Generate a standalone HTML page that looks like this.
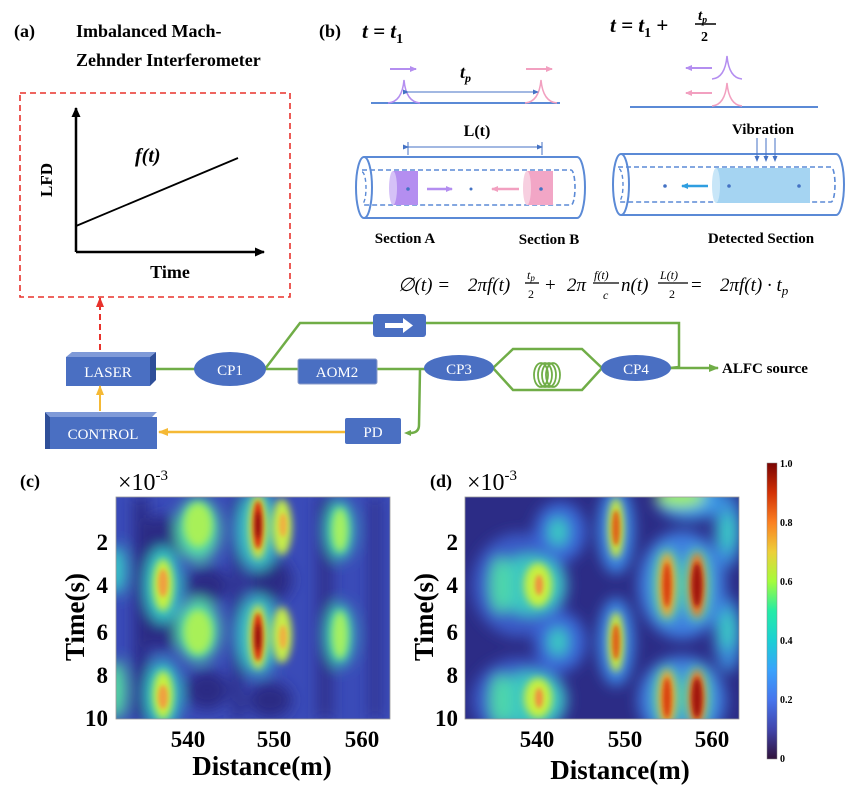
<!DOCTYPE html>
<html><head><meta charset="utf-8"><style>
html,body{margin:0;padding:0;background:#fff;}
svg{display:block;font-family:"Liberation Serif",serif;}
</style></head><body>
<svg width="854" height="792" viewBox="0 0 854 792" xmlns="http://www.w3.org/2000/svg">
<defs>
<filter id="b8" x="-50%" y="-50%" width="200%" height="200%"><feGaussianBlur stdDeviation="7"/></filter>
<filter id="b4" x="-50%" y="-50%" width="200%" height="200%"><feGaussianBlur stdDeviation="4"/></filter>
<filter id="b2" x="-50%" y="-50%" width="200%" height="200%"><feGaussianBlur stdDeviation="2.5"/></filter>
<linearGradient id="cb" x1="0" y1="1" x2="0" y2="0">
<stop offset="0" stop-color="#30123b"/><stop offset="0.1" stop-color="#4145ab"/><stop offset="0.2" stop-color="#4675ed"/>
<stop offset="0.3" stop-color="#39a2fc"/><stop offset="0.4" stop-color="#1bcfd4"/><stop offset="0.5" stop-color="#24eca6"/>
<stop offset="0.6" stop-color="#a4fc3b"/><stop offset="0.7" stop-color="#edcf39"/><stop offset="0.8" stop-color="#fb8022"/>
<stop offset="0.9" stop-color="#d23105"/><stop offset="1" stop-color="#7a0403"/></linearGradient>
<clipPath id="cc"><rect x="116" y="497" width="274" height="222"/></clipPath>
<clipPath id="cd"><rect x="465" y="497" width="274" height="222"/></clipPath>
<marker id="ag" markerUnits="userSpaceOnUse" markerWidth="10" markerHeight="10" refX="9" refY="5" orient="auto"><path d="M0,1 L10,5 L0,9z" fill="#70ad47"/></marker>
<marker id="ay" markerUnits="userSpaceOnUse" markerWidth="10" markerHeight="10" refX="9" refY="5" orient="auto"><path d="M0,1 L10,5 L0,9z" fill="#f5b935"/></marker>
<marker id="ar" markerUnits="userSpaceOnUse" markerWidth="10" markerHeight="10" refX="9" refY="5" orient="auto"><path d="M0,1 L10,5 L0,9z" fill="#e8322c"/></marker>
<marker id="ab" markerUnits="userSpaceOnUse" markerWidth="6" markerHeight="6" refX="5" refY="3" orient="auto"><path d="M0,0.5 L6,3 L0,5.5z" fill="#4472c4"/></marker>
<marker id="ak" markerUnits="userSpaceOnUse" markerWidth="10" markerHeight="10" refX="9" refY="5" orient="auto"><path d="M0,0.5 L10,5 L0,9.5z" fill="#000"/></marker>
<marker id="ap" markerUnits="userSpaceOnUse" markerWidth="7" markerHeight="7" refX="6" refY="3.5" orient="auto"><path d="M0,0.5 L7,3.5 L0,6.5z" fill="#b48ef0"/></marker>
<marker id="ak2" markerUnits="userSpaceOnUse" markerWidth="7" markerHeight="7" refX="6" refY="3.5" orient="auto"><path d="M0,0.5 L7,3.5 L0,6.5z" fill="#f2a0c0"/></marker>
<marker id="ac" markerUnits="userSpaceOnUse" markerWidth="7" markerHeight="7" refX="6" refY="3.5" orient="auto"><path d="M0,0.5 L7,3.5 L0,6.5z" fill="#2f9ee0"/></marker>
</defs>

<!-- (a) -->
<g font-weight="bold" font-size="18">
<text x="14" y="37">(a)</text>
<text x="76" y="37">Imbalanced Mach-</text>
<text x="76" y="66">Zehnder Interferometer</text>
</g>
<rect x="20" y="93" width="270" height="204" fill="none" stroke="#e8322c" stroke-width="1.6" stroke-dasharray="6,4"/>
<line x1="76" y1="252" x2="76" y2="108" stroke="#000" stroke-width="2.5" marker-end="url(#ak)"/>
<line x1="76" y1="252" x2="264" y2="252" stroke="#000" stroke-width="2.5" marker-end="url(#ak)"/>
<line x1="76" y1="226" x2="238" y2="158" stroke="#000" stroke-width="1.8"/>
<text x="135" y="162" font-size="20" font-weight="bold" font-style="italic">f(t)</text>
<text transform="translate(52,180) rotate(-90)" text-anchor="middle" font-size="17" font-weight="bold">LFD</text>
<text x="170" y="278" text-anchor="middle" font-size="18" font-weight="bold">Time</text>

<!-- (b) -->
<text x="319" y="37" font-size="18" font-weight="bold">(b)</text>
<text x="362" y="38" font-size="21" font-weight="bold" font-style="italic">t = t<tspan font-size="14" dy="5" font-style="normal">1</tspan></text>
<text x="610" y="32" font-size="21" font-weight="bold" font-style="italic">t = t<tspan font-size="14" dy="5" font-style="normal">1</tspan><tspan dy="-5" font-style="normal"> + </tspan></text>
<text x="698" y="20" font-size="15" font-weight="bold" font-style="italic">t<tspan font-size="10" dy="3">p</tspan></text>
<line x1="695" y1="24" x2="716" y2="24" stroke="#000" stroke-width="1.5"/>
<text x="701" y="41" font-size="14" font-weight="bold">2</text>

<line x1="371" y1="103" x2="560" y2="103" stroke="#5b8ad6" stroke-width="2"/>
<path d="M388,103 Q402,102 404,80 Q406,102 420,103" fill="none" stroke="#b48ef0" stroke-width="1.5"/>
<path d="M525,103 Q539,102 541,80 Q543,102 557,103" fill="none" stroke="#f2a0c0" stroke-width="1.5"/>
<line x1="390" y1="69" x2="416" y2="69" stroke="#b48ef0" stroke-width="2" marker-end="url(#ap)"/>
<line x1="526" y1="69" x2="552" y2="69" stroke="#f2a0c0" stroke-width="2" marker-end="url(#ak2)"/>
<line x1="408" y1="92" x2="538" y2="92" stroke="#4472c4" stroke-width="1" marker-end="url(#ab)" marker-start="url(#ab)"/>
<text x="460" y="78" font-size="18" font-weight="bold" font-style="italic">t<tspan font-size="12" dy="4">p</tspan></text>

<line x1="630" y1="107" x2="818" y2="107" stroke="#5b8ad6" stroke-width="2"/>
<path d="M712,79 Q725,78 727,56 Q729,78 742,79" fill="none" stroke="#b48ef0" stroke-width="1.5"/>
<path d="M712,106 Q725,105 727,83 Q729,105 742,106" fill="none" stroke="#f2a0c0" stroke-width="1.5"/>
<line x1="712" y1="68" x2="686" y2="68" stroke="#b48ef0" stroke-width="2" marker-end="url(#ap)"/>
<line x1="712" y1="93" x2="686" y2="93" stroke="#f2a0c0" stroke-width="2" marker-end="url(#ak2)"/>

<text x="477" y="136" text-anchor="middle" font-size="16" font-weight="bold">L(t)</text>
<line x1="408" y1="142" x2="408" y2="155" stroke="#4472c4"/><line x1="542" y1="142" x2="542" y2="155" stroke="#4472c4"/>
<line x1="408" y1="147" x2="542" y2="147" stroke="#4472c4" stroke-width="1" marker-end="url(#ab)" marker-start="url(#ab)"/>

<!-- left tube -->
<path d="M364,157 L577,157 A8,30.5 0 0 1 577,218 L364,218" fill="none" stroke="#5b8ad6" stroke-width="2"/>
<ellipse cx="364" cy="187.5" rx="8" ry="30.5" fill="none" stroke="#5b8ad6" stroke-width="2"/>
<path d="M362,170 L571,170 A4,17.5 0 0 1 571,205 L362,205" fill="none" stroke="#5b8ad6" stroke-width="1.6" stroke-dasharray="5,3"/>
<path d="M362,172 A4,16 0 0 1 362,204" fill="none" stroke="#5b8ad6" stroke-width="1.4" stroke-dasharray="4,3"/>
<rect x="393" y="171" width="25" height="34" fill="#b48ef0"/><ellipse cx="393" cy="188" rx="4" ry="17" fill="#d5c1f7"/>
<rect x="527" y="171" width="26" height="34" fill="#f2a6c6"/><ellipse cx="527" cy="188" rx="4" ry="17" fill="#f7cfe0"/>
<circle cx="408" cy="189" r="1.8" fill="#4472c4"/><circle cx="471" cy="189" r="1.5" fill="#4472c4"/><circle cx="541" cy="189" r="1.8" fill="#4472c4"/>
<line x1="427" y1="189" x2="452" y2="189" stroke="#b48ef0" stroke-width="2.5" marker-end="url(#ap)"/>
<line x1="519" y1="189" x2="492" y2="189" stroke="#f2a0c0" stroke-width="2.5" marker-end="url(#ak2)"/>
<!-- right tube -->
<path d="M621,154 L836,154 A8,30.5 0 0 1 836,215 L621,215" fill="none" stroke="#5b8ad6" stroke-width="2"/>
<ellipse cx="621" cy="184.5" rx="8" ry="30.5" fill="none" stroke="#5b8ad6" stroke-width="2"/>
<path d="M618,167 L831,167 A4,17.5 0 0 1 831,202 L618,202" fill="none" stroke="#5b8ad6" stroke-width="1.6" stroke-dasharray="5,3"/>
<path d="M619,169 A4,16 0 0 1 619,201" fill="none" stroke="#5b8ad6" stroke-width="1.4" stroke-dasharray="4,3"/>
<rect x="716" y="168" width="94" height="35" fill="#a5d4f2"/><ellipse cx="716" cy="185.5" rx="4" ry="17.5" fill="#c8e6f8"/>
<circle cx="665" cy="186" r="1.8" fill="#4472c4"/><circle cx="729" cy="186" r="1.8" fill="#4472c4"/><circle cx="799" cy="186" r="1.8" fill="#4472c4"/>
<line x1="708" y1="186" x2="682" y2="186" stroke="#2f9ee0" stroke-width="2.5" marker-end="url(#ac)"/>
<text x="763" y="134" text-anchor="middle" font-size="15" font-weight="bold">Vibration</text>
<g stroke="#4472c4" stroke-width="1"><line x1="757" y1="138" x2="757" y2="161" marker-end="url(#ab)"/><line x1="766" y1="138" x2="766" y2="161" marker-end="url(#ab)"/><line x1="775" y1="138" x2="775" y2="161" marker-end="url(#ab)"/></g>
<g font-size="15" font-weight="bold" text-anchor="middle">
<text x="405" y="243">Section A</text><text x="549" y="244">Section B</text><text x="761" y="243">Detected Section</text>
</g>
<!-- formula -->
<g font-size="19" font-style="italic">
<text x="398" y="291">∅(t) =</text>
<text x="468" y="291">2πf(t)</text>
<text x="527" y="279" font-size="12">t<tspan font-size="9" dy="2">p</tspan></text><line x1="525" y1="283" x2="539" y2="283" stroke="#000" stroke-width="1.3"/><text x="528" y="298" font-size="12" font-style="normal">2</text>
<text x="545" y="291" font-style="normal">+</text>
<text x="567" y="291">2π</text>
<text x="594" y="279" font-size="12">f(t)</text><line x1="593" y1="283" x2="619" y2="283" stroke="#000" stroke-width="1.3"/><text x="603" y="299" font-size="12">c</text>
<text x="621" y="291">n(t)</text>
<text x="660" y="279" font-size="12">L(t)</text><line x1="658" y1="283" x2="688" y2="283" stroke="#000" stroke-width="1.3"/><text x="669" y="298" font-size="12" font-style="normal">2</text>
<text x="691" y="291" font-style="normal">=</text>
<text x="720" y="291">2πf(t) · t<tspan font-size="13" dy="4">p</tspan></text>
</g>

<!-- setup -->
<line x1="100" y1="350" x2="100" y2="298" stroke="#e8322c" stroke-width="2" stroke-dasharray="6,4" marker-end="url(#ar)"/>
<g stroke="#70ad47" stroke-width="2.5" fill="none">
<line x1="150" y1="369" x2="196" y2="369"/>
<line x1="265" y1="369" x2="298" y2="369"/>
<polyline points="265,369 300,323 679,323 679,367 670,368"/>
<line x1="377" y1="369" x2="426" y2="369"/>
<path d="M420,369 L419,425 Q419,433 410,433"/>
<polyline points="493,368 513,349 582,349 602,368"/>
<polyline points="493,368 513,390 582,390 602,368"/>
<line x1="670" y1="368" x2="718" y2="368" marker-end="url(#ag)"/>
</g>
<path d="M411,430 L404,433 L411,436z" fill="#70ad47"/>
<g fill="none" stroke="#70ad47" stroke-width="1.8"><ellipse cx="541" cy="375" rx="7" ry="12"/><ellipse cx="545" cy="375" rx="7" ry="12"/><ellipse cx="549" cy="375" rx="7" ry="12"/><ellipse cx="553" cy="375" rx="7" ry="12"/></g>
<!-- LASER 3D -->
<path d="M66,357 L72,352 L156,352 L150,357z" fill="#7f9ad8"/><path d="M150,357 L156,352 L156,380 L150,386z" fill="#2f4f99"/>
<rect x="66" y="357" width="84" height="29" fill="#4a6fc2"/>
<text x="108" y="377" text-anchor="middle" fill="#fff" font-size="15">LASER</text>
<line x1="100" y1="411" x2="100" y2="386" stroke="#f5b935" stroke-width="2" marker-end="url(#ay)"/>
<path d="M45,412 L50,417 L50,449 L45,449z" fill="#2f4f99"/><path d="M45,412 L157,412 L152,417 L50,417z" fill="#7f9ad8"/>
<rect x="50" y="417" width="107" height="32" fill="#4a6fc2"/>
<text x="103" y="439" text-anchor="middle" fill="#fff" font-size="15">CONTROL</text>
<line x1="345" y1="432" x2="159" y2="432" stroke="#f5b935" stroke-width="2.5" marker-end="url(#ay)"/>
<rect x="345" y="418" width="56" height="26" rx="2" fill="#4a6fc2"/><text x="373" y="437" text-anchor="middle" fill="#fff" font-size="15">PD</text>
<ellipse cx="230" cy="369" rx="36" ry="17" fill="#4a6fc2"/><text x="230" y="375" text-anchor="middle" fill="#fff" font-size="15">CP1</text>
<rect x="298" y="359" width="79" height="25" rx="2" fill="#4a6fc2" stroke="#8a9bc8"/><text x="337" y="377" text-anchor="middle" fill="#fff" font-size="15">AOM2</text>
<ellipse cx="459" cy="368" rx="35" ry="13" fill="#4a6fc2"/><text x="459" y="374" text-anchor="middle" fill="#fff" font-size="15">CP3</text>
<ellipse cx="636" cy="368" rx="35" ry="13" fill="#4a6fc2"/><text x="636" y="374" text-anchor="middle" fill="#fff" font-size="15">CP4</text>
<rect x="373" y="314" width="53" height="23" rx="3" fill="#4a6fc2"/><path d="M385,323 L403,323 L403,318 L413,325.5 L403,333 L403,328 L385,328z" fill="#fff"/>
<text x="722" y="373" font-size="15" font-weight="bold">ALFC source</text>

<!-- (c) heatmap -->
<g clip-path="url(#cc)">
<rect x="116" y="497" width="274" height="222" fill="#3a4bb8"/>
<g filter="url(#b8)">
<rect x="134" y="497" width="14" height="222" fill="#2b2a84"/>
<rect x="233" y="497" width="10" height="222" fill="#2b2a84"/>
<rect x="318" y="497" width="14" height="222" fill="#2d2d8a"/>
<rect x="370" y="497" width="10" height="222" fill="#2d2d8a"/>
<ellipse cx="162" cy="540" rx="20" ry="25" fill="#2b2a84"/><ellipse cx="162" cy="630" rx="20" ry="20" fill="#2b2a84"/>
<ellipse cx="207" cy="585" rx="22" ry="18" fill="#2b2a84"/><ellipse cx="207" cy="690" rx="22" ry="20" fill="#2b2a84"/>
<ellipse cx="270" cy="580" rx="22" ry="22" fill="#2b2a84"/><ellipse cx="270" cy="700" rx="22" ry="18" fill="#2b2a84"/>
<ellipse cx="116" cy="570" rx="10" ry="25" fill="#38c9c8"/><ellipse cx="116" cy="690" rx="10" ry="30" fill="#55e0a0"/>
<ellipse cx="163" cy="585" rx="18" ry="38" fill="#36c7c8"/><ellipse cx="163" cy="695" rx="18" ry="35" fill="#36c7c8"/>
<ellipse cx="198" cy="530" rx="22" ry="32" fill="#55d8a8"/><ellipse cx="198" cy="630" rx="22" ry="32" fill="#55d8a8"/>
<ellipse cx="258" cy="530" rx="22" ry="40" fill="#3bc0c8"/><ellipse cx="258" cy="635" rx="22" ry="40" fill="#3bc0c8"/>
<ellipse cx="340" cy="530" rx="14" ry="30" fill="#40d0b8"/><ellipse cx="340" cy="635" rx="14" ry="32" fill="#40d0b8"/>
</g>
<g filter="url(#b4)">
<ellipse cx="163" cy="585" rx="10" ry="26" fill="#c8f040"/><ellipse cx="163" cy="695" rx="10" ry="24" fill="#c8f040"/>
<ellipse cx="198" cy="525" rx="14" ry="22" fill="#a8f058"/><ellipse cx="198" cy="632" rx="14" ry="22" fill="#a8f058"/>
<ellipse cx="258" cy="527" rx="9" ry="32" fill="#d8e038"/><ellipse cx="258" cy="637" rx="9" ry="32" fill="#d8e038"/>
<ellipse cx="282" cy="527" rx="10" ry="28" fill="#c8ec48"/><ellipse cx="282" cy="635" rx="10" ry="28" fill="#c8ec48"/>
<ellipse cx="340" cy="530" rx="8" ry="22" fill="#a6f060"/><ellipse cx="340" cy="635" rx="8" ry="24" fill="#a6f060"/>
</g>
<g filter="url(#b2)">
<ellipse cx="163" cy="583" rx="5" ry="14" fill="#f0a040"/><ellipse cx="163" cy="697" rx="5" ry="12" fill="#f0a040"/>
<ellipse cx="258" cy="525" rx="5" ry="24" fill="#d83010"/><ellipse cx="258" cy="637" rx="5" ry="24" fill="#d83010"/>
<ellipse cx="258" cy="525" rx="3" ry="14" fill="#901008"/><ellipse cx="258" cy="637" rx="3" ry="14" fill="#901008"/>
<ellipse cx="283" cy="525" rx="4" ry="12" fill="#f0b040"/><ellipse cx="283" cy="637" rx="4" ry="12" fill="#f0b040"/>
</g>
</g>
<rect x="116" y="497" width="274" height="222" fill="none" stroke="#999" stroke-width="0.8"/>

<!-- (d) heatmap -->
<g clip-path="url(#cd)">
<rect x="465" y="497" width="274" height="222" fill="#2c2c86"/>
<g filter="url(#b8)">
<ellipse cx="520" cy="585" rx="48" ry="52" fill="#3a5cc8"/><ellipse cx="520" cy="700" rx="48" ry="42" fill="#3a5cc8"/>
<ellipse cx="560" cy="532" rx="26" ry="30" fill="#3a6ad8"/><ellipse cx="560" cy="642" rx="26" ry="30" fill="#3a6ad8"/>
<ellipse cx="616" cy="530" rx="18" ry="44" fill="#3d8be8"/><ellipse cx="616" cy="642" rx="18" ry="44" fill="#3d8be8"/>
<ellipse cx="682" cy="585" rx="44" ry="54" fill="#3d7ee0"/><ellipse cx="682" cy="700" rx="44" ry="44" fill="#3d7ee0"/>
<ellipse cx="690" cy="500" rx="34" ry="20" fill="#3d9be8"/>
<ellipse cx="728" cy="530" rx="14" ry="38" fill="#3a88d8"/><ellipse cx="728" cy="635" rx="14" ry="38" fill="#3a88d8"/>
<ellipse cx="530" cy="585" rx="35" ry="30" fill="#3cc8c0"/><ellipse cx="530" cy="700" rx="35" ry="28" fill="#3cc8c0"/>
<ellipse cx="500" cy="585" rx="10" ry="28" fill="#50d8a8"/><ellipse cx="500" cy="700" rx="10" ry="26" fill="#50d8a8"/>
<ellipse cx="558" cy="532" rx="9" ry="14" fill="#3ad0c0"/><ellipse cx="558" cy="642" rx="9" ry="14" fill="#3ad0c0"/>
<ellipse cx="667" cy="585" rx="12" ry="36" fill="#60e090"/><ellipse cx="697" cy="585" rx="12" ry="36" fill="#60e090"/>
<ellipse cx="667" cy="697" rx="12" ry="30" fill="#60e090"/><ellipse cx="697" cy="697" rx="12" ry="30" fill="#60e090"/>
<ellipse cx="727" cy="532" rx="7" ry="20" fill="#3ad0c0"/><ellipse cx="727" cy="630" rx="7" ry="20" fill="#3ad0c0"/>
<ellipse cx="680" cy="497" rx="25" ry="10" fill="#a0f060"/>
</g>
<g filter="url(#b4)">
<ellipse cx="616" cy="528" rx="8" ry="30" fill="#c8e840"/><ellipse cx="616" cy="642" rx="8" ry="30" fill="#c8e840"/>
<ellipse cx="538" cy="585" rx="14" ry="22" fill="#c8f040"/><ellipse cx="538" cy="698" rx="14" ry="20" fill="#c8f040"/>
<ellipse cx="667" cy="585" rx="8" ry="32" fill="#f0a030"/><ellipse cx="697" cy="585" rx="8" ry="32" fill="#f07020"/>
<ellipse cx="667" cy="698" rx="8" ry="28" fill="#f0a030"/><ellipse cx="697" cy="698" rx="8" ry="28" fill="#f07020"/>
</g>
<g filter="url(#b2)">
<ellipse cx="616" cy="528" rx="4" ry="18" fill="#e06018"/><ellipse cx="616" cy="642" rx="4" ry="18" fill="#e06018"/>
<ellipse cx="539" cy="585" rx="4" ry="10" fill="#f09040"/><ellipse cx="539" cy="698" rx="4" ry="10" fill="#f09040"/>
<ellipse cx="667" cy="585" rx="4" ry="22" fill="#d84010"/><ellipse cx="697" cy="585" rx="5" ry="22" fill="#a01808"/>
<ellipse cx="667" cy="698" rx="4" ry="20" fill="#d84010"/><ellipse cx="697" cy="698" rx="5" ry="20" fill="#a01808"/>
</g>
</g>
<rect x="465" y="497" width="274" height="222" fill="none" stroke="#999" stroke-width="0.8"/>

<!-- colorbar -->
<rect x="767" y="463" width="10" height="296" fill="url(#cb)" stroke="#888" stroke-width="0.5"/>
<g font-size="10" font-weight="bold">
<text x="780" y="467">1.0</text><text x="780" y="526">0.8</text><text x="780" y="585">0.6</text>
<text x="780" y="644">0.4</text><text x="780" y="703">0.2</text><text x="780" y="762">0</text>
</g>

<!-- labels -->
<g font-weight="bold">
<text x="20" y="487" font-size="18">(c)</text>
<text x="430" y="487" font-size="18">(d)</text>
</g>
<text x="118" y="490" font-size="24">×10<tspan font-size="15" dy="-10">-3</tspan></text>
<text x="467" y="490" font-size="24">×10<tspan font-size="15" dy="-10">-3</tspan></text>
<g font-size="23" font-weight="bold" text-anchor="end">
<text x="108" y="550">2</text><text x="108" y="593">4</text><text x="108" y="640">6</text><text x="108" y="683">8</text><text x="108" y="726">10</text>
<text x="458" y="550">2</text><text x="458" y="593">4</text><text x="458" y="640">6</text><text x="458" y="683">8</text><text x="458" y="726">10</text>
</g>
<g font-size="23" font-weight="bold" text-anchor="middle">
<text x="188" y="747">540</text><text x="274" y="747">550</text><text x="362" y="747">560</text>
<text x="537" y="747">540</text><text x="625" y="747">550</text><text x="712" y="747">560</text>
<text x="262" y="775" font-size="27">Distance(m)</text>
<text x="620" y="779" font-size="27">Distance(m)</text>
<text transform="translate(84,617) rotate(-90)" font-size="27">Time(s)</text>
<text transform="translate(433,617) rotate(-90)" font-size="27">Time(s)</text>
</g>
</svg>
</body></html>
